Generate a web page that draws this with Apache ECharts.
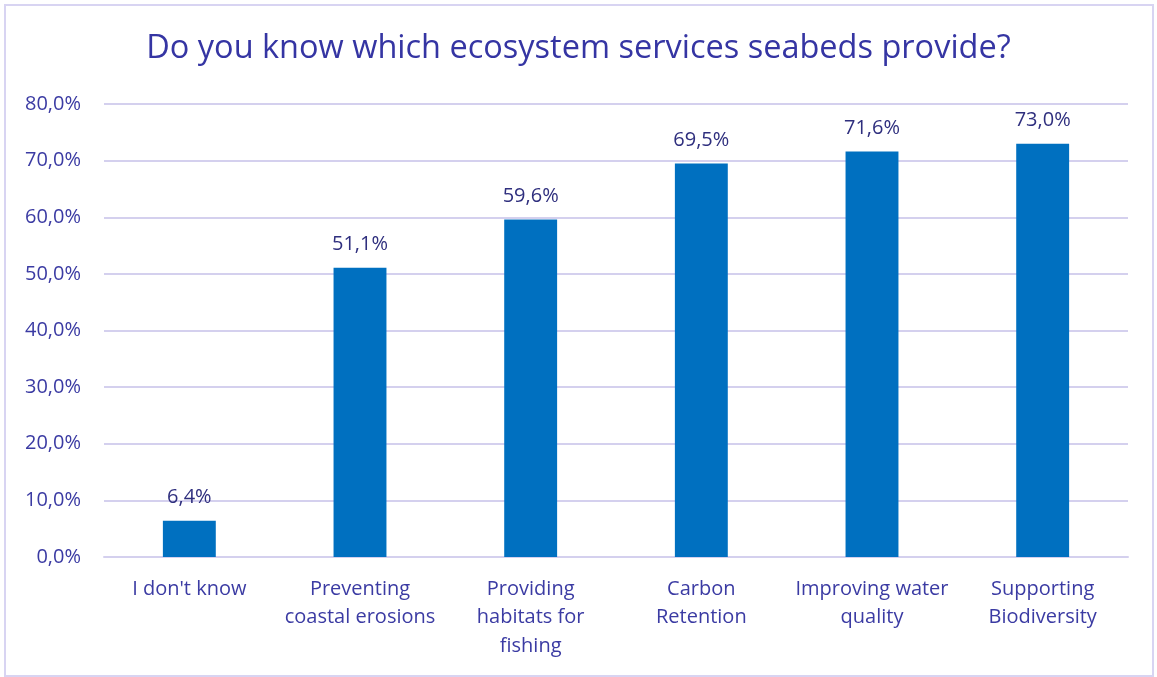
<!DOCTYPE html>
<html>
<head>
<meta charset="utf-8">
<script src="https://cdn.jsdelivr.net/npm/echarts@6/dist/echarts.min.js"></script>
<style>
  html, body { margin: 0; padding: 0; background: #ffffff; }
  #chart { width: 1157px; height: 677px; }
</style>
</head>
<body>
<div id="chart"></div>
<script>
// Survey answers: share of respondents who named each seabed ecosystem service
const categories = [
  "I don't know",
  "Preventing\ncoastal erosions",
  "Providing\nhabitats for\nfishing",
  "Carbon\nRetention",
  "Improving water\nquality",
  "Supporting\nBiodiversity"
];
const shares = [6.4, 51.1, 59.6, 69.5, 71.6, 73.0];
const yTicks = [0, 10, 20, 30, 40, 50, 60, 70, 80];

const fontFamily = "'Open Sans', 'Noto Sans', sans-serif";
const textColor = '#3b3ba3';
const labelColor = '#2f2f7e';

const fmt = v => v.toFixed(1).replace('.', ',') + '%';

const chart = echarts.init(document.getElementById('chart'), null, { renderer: 'canvas' });
chart.setOption({
  backgroundColor: '#ffffff',
  animation: false,
  title: {
    text: 'Do you know which ecosystem services seabeds provide?',
    left: 'center',
    top: 27,
    textStyle: { color: '#3535a3', fontSize: 32.5, fontWeight: 'normal', fontFamily: fontFamily }
  },
  graphic: [{
    type: 'rect',
    shape: { x: 5, y: 5, width: 1148, height: 671 },
    style: { fill: 'none', stroke: '#d8d4f2', lineWidth: 2 },
    silent: true
  }],
  grid: { left: 104, right: 29, top: 104, bottom: 120, containLabel: false },
  xAxis: {
    type: 'category',
    data: categories,
    axisLine: { show: true, lineStyle: { color: '#d4d0ee', width: 2 } },
    axisTick: { show: false },
    axisLabel: {
      color: textColor, fontSize: 20, fontFamily: fontFamily,
      margin: 18, lineHeight: 28.5, interval: 0
    }
  },
  yAxis: {
    type: 'value',
    min: yTicks[0],
    max: yTicks[yTicks.length - 1],
    interval: 10,
    axisLine: { show: false },
    axisTick: { show: false },
    splitLine: { lineStyle: { color: '#d4d0ee', width: 2 } },
    axisLabel: {
      color: textColor, fontSize: 20, fontFamily: fontFamily, margin: 23,
      formatter: v => fmt(v)
    }
  },
  series: [{
    type: 'bar',
    data: shares,
    barWidth: '31%',
    itemStyle: { color: '#0070c0' },
    label: {
      show: true,
      position: 'top',
      distance: 13,
      color: labelColor,
      fontSize: 20,
      fontFamily: fontFamily,
      formatter: p => fmt(p.value)
    }
  }]
});
</script>
</body>
</html>
